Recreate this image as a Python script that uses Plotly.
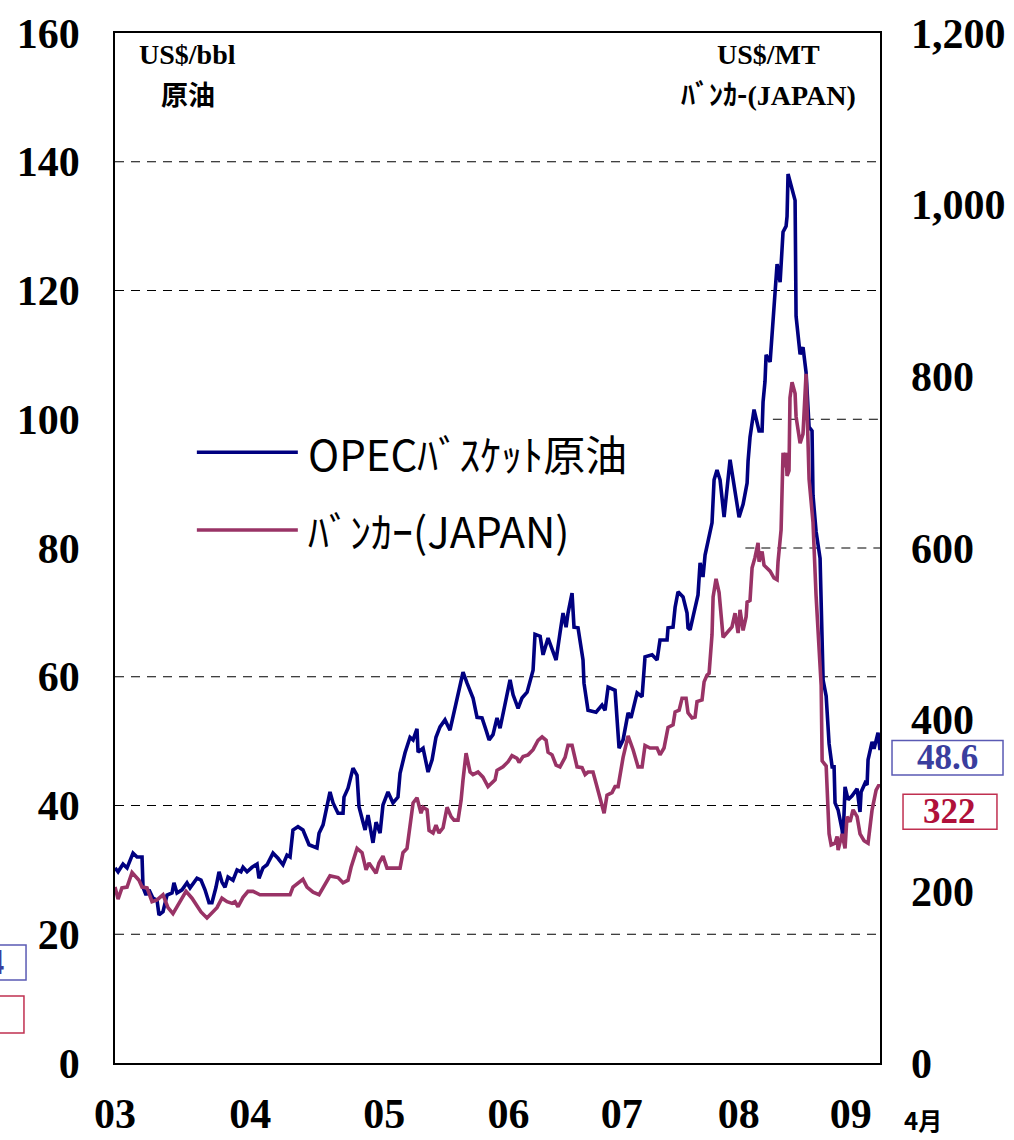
import plotly.graph_objects as go

# ---------------- data ----------------
opec_name = "OPEC\uff8a\uff9e\uff7d\uff79\uff6f\uff84原油"
bunker_name = "\uff8a\uff9e\uff9d\uff76\uff70(JAPAN)"

# time in decimal years, OPEC basket price (US$/bbl)
opec_t = [2003.000, 2003.025, 2003.066, 2003.099, 2003.148, 2003.181, 2003.222, 2003.230, 2003.255, 2003.279,
          2003.312, 2003.345, 2003.361, 2003.394, 2003.427, 2003.468, 2003.484, 2003.509, 2003.550, 2003.591,
          2003.616, 2003.673, 2003.706, 2003.739, 2003.772, 2003.796, 2003.829, 2003.854, 2003.878, 2003.903,
          2003.928, 2003.969, 2004.002, 2004.034, 2004.051, 2004.084, 2004.125, 2004.166, 2004.182, 2004.215,
          2004.248, 2004.297, 2004.338, 2004.379, 2004.412, 2004.437, 2004.461, 2004.502, 2004.543, 2004.576,
          2004.593, 2004.658, 2004.675, 2004.708, 2004.765, 2004.790, 2004.831, 2004.872, 2004.880, 2004.913,
          2004.954, 2004.987, 2005.003, 2005.036, 2005.053, 2005.077, 2005.118, 2005.143, 2005.176, 2005.200,
          2005.241, 2005.282, 2005.323, 2005.340, 2005.381, 2005.422, 2005.447, 2005.479, 2005.488, 2005.529,
          2005.570, 2005.603, 2005.635, 2005.668, 2005.709, 2005.750, 2005.775, 2005.816, 2005.857, 2005.890,
          2005.915, 2005.939, 2005.972, 2006.013, 2006.046, 2006.071, 2006.103, 2006.136, 2006.161, 2006.202,
          2006.243, 2006.268, 2006.309, 2006.341, 2006.383, 2006.432, 2006.448, 2006.490, 2006.514, 2006.555,
          2006.596, 2006.621, 2006.653, 2006.678, 2006.703, 2006.719, 2006.752, 2006.768, 2006.801, 2006.842,
          2006.850, 2006.883, 2006.949, 2006.998, 2007.023, 2007.048, 2007.105, 2007.138, 2007.171, 2007.212,
          2007.236, 2007.286, 2007.327, 2007.351, 2007.409, 2007.450, 2007.474, 2007.532, 2007.540, 2007.581,
          2007.598, 2007.622, 2007.663, 2007.696, 2007.704, 2007.721, 2007.745, 2007.786, 2007.803, 2007.827,
          2007.844, 2007.868, 2007.901, 2007.918, 2007.942, 2007.967, 2008.000, 2008.049, 2008.074, 2008.098,
          2008.123, 2008.156, 2008.189, 2008.197, 2008.213, 2008.246, 2008.287, 2008.312, 2008.320, 2008.336,
          2008.345, 2008.378, 2008.402, 2008.410, 2008.435, 2008.460, 2008.484, 2008.509, 2008.517, 2008.525,
          2008.583, 2008.591, 2008.624, 2008.648, 2008.673, 2008.698, 2008.722, 2008.730, 2008.755, 2008.788,
          2008.813, 2008.838, 2008.862, 2008.887, 2008.903, 2008.911, 2008.936, 2008.969, 2008.977, 2008.993,
          2009.018, 2009.051, 2009.092, 2009.116, 2009.125, 2009.158, 2009.174, 2009.182, 2009.215, 2009.231,
          2009.264, 2009.280]
opec_v = [30.3, 29.7, 30.9, 30.3, 32.6, 32.0, 32.0, 27.3, 26.1, 26.9,
          25.6, 25.3, 23.0, 23.5, 26.1, 26.4, 28.0, 26.4, 26.9, 28.0,
          27.2, 28.7, 28.4, 26.9, 24.9, 24.9, 27.3, 29.7, 28.1, 27.3,
          28.9, 28.4, 30.0, 29.7, 30.4, 29.7, 30.4, 30.9, 28.7, 30.3,
          30.8, 32.6, 31.8, 30.8, 32.3, 32.0, 36.2, 36.7, 36.2, 34.6,
          33.9, 33.4, 35.7, 37.0, 42.1, 40.4, 38.8, 38.8, 41.3, 42.7,
          45.8, 44.7, 39.8, 37.4, 36.2, 38.5, 34.2, 37.4, 35.7, 40.1,
          42.1, 40.4, 41.3, 45.0, 48.2, 50.6, 50.2, 51.9, 48.3, 48.9,
          45.2, 47.1, 50.6, 52.2, 53.3, 51.7, 53.7, 56.9, 60.7, 59.0,
          57.9, 56.7, 53.7, 53.6, 51.7, 50.2, 51.0, 53.6, 52.0, 56.1,
          59.5, 57.2, 55.1, 56.7, 57.6, 61.0, 66.6, 66.3, 63.4, 66.0,
          63.7, 62.6, 66.8, 69.9, 67.7, 69.9, 73.0, 67.7, 67.6, 62.6,
          59.0, 54.8, 54.5, 55.6, 54.8, 58.4, 57.9, 48.9, 50.2, 54.4,
          53.6, 57.5, 56.9, 63.1, 63.4, 62.6, 65.7, 65.7, 67.6, 67.7,
          70.8, 73.2, 72.4, 69.9, 67.6, 67.3, 69.3, 72.7, 77.7, 75.5,
          78.9, 80.8, 83.9, 90.6, 92.1, 90.6, 84.8, 93.7, 90.6, 87.0,
          84.8, 86.8, 90.1, 93.5, 97.2, 101.5, 98.2, 98.2, 102.7, 105.9,
          110.0, 108.9, 115.4, 119.3, 124.1, 121.3, 129.1, 130.0, 131.5, 138.1,
          134.0, 116.0, 110.1, 111.2, 107.3, 98.8, 98.2, 88.2, 82.6, 78.4,
          59.5, 57.0, 49.6, 46.0, 46.0, 40.4, 39.3, 36.2, 34.8, 42.9,
          40.9, 41.5, 42.6, 39.0, 42.1, 43.5, 43.2, 47.1, 49.9, 48.8,
          51.3, 48.6]

# time in decimal years, bunker price Japan (US$/MT)
bunker_t = [2003.000, 2003.025, 2003.057, 2003.099, 2003.140, 2003.197, 2003.222, 2003.263, 2003.304, 2003.345,
            2003.394, 2003.435, 2003.476, 2003.534, 2003.583, 2003.632, 2003.673, 2003.706, 2003.755, 2003.796,
            2003.837, 2003.878, 2003.920, 2003.961, 2003.985, 2004.010, 2004.051, 2004.092, 2004.133, 2004.190,
            2004.437, 2004.461, 2004.543, 2004.576, 2004.626, 2004.675, 2004.708, 2004.765, 2004.831, 2004.872,
            2004.913, 2004.938, 2004.987, 2005.028, 2005.061, 2005.085, 2005.143, 2005.167, 2005.200, 2005.233,
            2005.340, 2005.364, 2005.397, 2005.422, 2005.447, 2005.479, 2005.512, 2005.529, 2005.562, 2005.578,
            2005.611, 2005.635, 2005.660, 2005.693, 2005.726, 2005.759, 2005.783, 2005.816, 2005.841, 2005.857,
            2005.882, 2005.915, 2005.939, 2005.980, 2006.021, 2006.062, 2006.095, 2006.120, 2006.136, 2006.185,
            2006.227, 2006.259, 2006.300, 2006.317, 2006.350, 2006.391, 2006.432, 2006.473, 2006.506, 2006.539,
            2006.555, 2006.588, 2006.621, 2006.653, 2006.695, 2006.719, 2006.752, 2006.793, 2006.834, 2006.859,
            2006.883, 2006.924, 2006.949, 2006.982, 2007.015, 2007.039, 2007.080, 2007.105, 2007.130, 2007.171,
            2007.212, 2007.253, 2007.294, 2007.327, 2007.351, 2007.392, 2007.450, 2007.474, 2007.507, 2007.540,
            2007.581, 2007.598, 2007.631, 2007.655, 2007.688, 2007.704, 2007.737, 2007.762, 2007.778, 2007.819,
            2007.836, 2007.860, 2007.877, 2007.901, 2007.910, 2007.934, 2007.959, 2007.992, 2008.024, 2008.065,
            2008.090, 2008.115, 2008.131, 2008.156, 2008.181, 2008.189, 2008.213, 2008.230, 2008.254, 2008.279,
            2008.287, 2008.312, 2008.328, 2008.378, 2008.410, 2008.435, 2008.443, 2008.468, 2008.484, 2008.501,
            2008.509, 2008.517, 2008.533, 2008.541, 2008.558, 2008.583, 2008.591, 2008.624, 2008.648, 2008.673,
            2008.698, 2008.730, 2008.755, 2008.780, 2008.797, 2008.805, 2008.838, 2008.862, 2008.879, 2008.911,
            2008.928, 2008.936, 2008.969, 2008.993, 2009.009, 2009.034, 2009.059, 2009.092, 2009.116, 2009.149,
            2009.182, 2009.215, 2009.248, 2009.272, 2009.280]
bunker_v = [205, 191, 204, 205, 222, 213, 205, 204, 188, 190,
            196, 181, 174, 188, 200, 192, 184, 176, 169, 175,
            181, 192, 188, 186, 188, 182, 193, 200, 200, 196,
            196, 205, 214, 205, 199, 196, 204, 218, 216, 210,
            213, 228, 250, 245, 225, 233, 221, 233, 241, 227,
            227, 245, 250, 275, 303, 309, 291, 298, 295, 271,
            268, 277, 268, 274, 298, 287, 283, 283, 306, 330,
            361, 339, 336, 339, 333, 322, 326, 330, 341, 345,
            351, 358, 355, 350, 357, 359, 365, 376, 380, 376,
            362, 359, 347, 345, 356, 370, 370, 345, 344, 336,
            339, 339, 326, 310, 291, 312, 315, 322, 322, 356,
            381, 365, 345, 345, 370, 367, 367, 359, 367, 391,
            394, 409, 411, 425, 425, 408, 402, 403, 421, 423,
            444, 452, 454, 499, 543, 564, 548, 496, 502, 508,
            524, 501, 528, 504, 520, 537, 539, 577, 589, 606,
            584, 596, 580, 573, 565, 563, 584, 621, 711, 694,
            711, 684, 690, 775, 793, 780, 753, 722, 733, 803,
            680, 630, 545, 482, 440, 352, 346, 267, 254, 256,
            264, 248, 267, 250, 287, 281, 295, 287, 267, 259,
            256, 295, 318, 324, 322]

left_ticks = [0, 20, 40, 60, 80, 100, 120, 140, 160]
right_ticks = [0, 200, 400, 600, 800, 1000, 1200]
year_labels = ["03", "04", "05", "06", "07", "08", "09"]
year_label_pos = [2003.0, 2004.11, 2005.21, 2006.23, 2007.16, 2008.12, 2009.04]
grid_values = [20, 40, 60, 80, 100, 120, 140]
latest_opec = "48.6"
latest_bunker = "322"

# ---------------- style ----------------
SERIF = "Liberation Serif, Times New Roman, serif"
JP = "Noto Sans CJK JP, sans-serif"
BLUE = "#000080"
RED = "#993366"
LW = 3.6

fig = go.Figure()
fig.add_trace(go.Scatter(x=opec_t, y=opec_v, mode="lines", name=opec_name,
                         line=dict(color=BLUE, width=LW), yaxis="y"))
fig.add_trace(go.Scatter(x=bunker_t, y=bunker_v, mode="lines", name=bunker_name,
                         line=dict(color=RED, width=LW), yaxis="y2"))

shapes = []
# dashed gridlines (the ones at 80/100 are hidden behind the legend area on the left)
grid_start = {80: 0.824, 100: 0.860}
for g in grid_values:
    shapes.append(dict(type="line", xref="paper", yref="y", x0=grid_start.get(g, 0), x1=1,
                       y0=g, y1=g, layer="below",
                       line=dict(color="black", width=1, dash="9px,7px")))

# legend samples
shapes.append(dict(type="line", xref="paper", yref="paper", x0=0.107, x1=0.239, y0=0.593, y1=0.593,
                   line=dict(color=BLUE, width=LW)))
shapes.append(dict(type="line", xref="paper", yref="paper", x0=0.107, x1=0.239, y0=0.5175, y1=0.5175,
                   line=dict(color=RED, width=LW)))

# value boxes (right) and clipped boxes (left edge)
shapes.append(dict(type="rect", xref="paper", yref="paper", x0=1.0157, x1=1.1608, y0=0.2796, y1=0.3130,
                   line=dict(color="#5a5ab4", width=1.5), fillcolor="white"))
shapes.append(dict(type="rect", xref="paper", yref="paper", x0=1.0301, x1=1.1529, y0=0.2269, y1=0.2610,
                   line=dict(color="#c03050", width=1.5), fillcolor="white"))
shapes.append(dict(type="rect", xref="paper", yref="paper", x0=-0.30, x1=-0.1163, y0=0.0806, y1=0.1146,
                   line=dict(color="#5a5ab4", width=1.5), fillcolor="white"))
shapes.append(dict(type="rect", xref="paper", yref="paper", x0=-0.30, x1=-0.1190, y0=0.0291, y1=0.0650,
                   line=dict(color="#c03050", width=1.5), fillcolor="white"))

annotations = [
    dict(text=opec_name, xref="paper", yref="paper", x=0.2497, y=0.593, xanchor="left", yanchor="middle",
         showarrow=False, font=dict(family=JP, size=42, color="black")),
    dict(text=bunker_name, xref="paper", yref="paper", x=0.2497, y=0.5175, xanchor="left", yanchor="middle",
         showarrow=False, font=dict(family=JP, size=42, color="black")),
    dict(text="<b>US$/bbl</b>", xref="paper", yref="paper", x=0.0954, y=0.9796, xanchor="center",
         yanchor="middle", showarrow=False, font=dict(family=SERIF, size=28, color="black")),
    dict(text="<b>原油</b>", xref="paper", yref="paper", x=0.0954, y=0.9417, xanchor="center",
         yanchor="middle", showarrow=False, font=dict(family=JP, size=27, color="black")),
    dict(text="<b>US$/MT</b>", xref="paper", yref="paper", x=0.8536, y=0.9796, xanchor="center",
         yanchor="middle", showarrow=False, font=dict(family=SERIF, size=28, color="black")),
    dict(text="<b>\uff8a\uff9e\uff9d\uff76-</b><span style=\"font-family:Liberation Serif\"><b>(JAPAN)</b></span>",
         xref="paper", yref="paper", x=0.8536, y=0.9417, xanchor="center",
         yanchor="middle", showarrow=False, font=dict(family=JP, size=28, color="black")),
    dict(text="<b>4月</b>", xref="paper", yref="paper", x=1.056, y=-0.0553, xanchor="center",
         yanchor="middle", showarrow=False, font=dict(family=JP, size=24, color="black")),
    dict(text="<b>" + latest_opec + "</b>", xref="paper", yref="paper", x=1.0882, y=0.2963,
         xanchor="center", yanchor="middle", showarrow=False, font=dict(family=SERIF, size=35, color="#3a3e9e")),
    dict(text="<b>" + latest_bunker + "</b>", xref="paper", yref="paper", x=1.0915, y=0.2442,
         xanchor="center", yanchor="middle", showarrow=False, font=dict(family=SERIF, size=35, color="#b0103a")),
    dict(text="<b>24.4</b>", xref="paper", yref="paper", x=-0.1425, y=0.098,
         xanchor="right", yanchor="middle", showarrow=False, font=dict(family=SERIF, size=35, color="#3a3e9e")),
]

axis_font = dict(family=SERIF, size=42, color="black", weight="bold")

fig.update_layout(
    template="none",
    width=1014, height=1140,
    margin=dict(l=115, r=134, t=33, b=77, pad=0),
    paper_bgcolor="white", plot_bgcolor="white",
    showlegend=False,
    shapes=shapes,
    annotations=annotations,
    xaxis=dict(range=[2003.0, 2009.28], tickmode="array", tickvals=year_label_pos, ticktext=year_labels,
               ticks="", showgrid=False, zeroline=False, showline=True, linecolor="black", linewidth=1.5,
               mirror=True, tickfont=axis_font, ticklabelstandoff=13, automargin=False),
    yaxis=dict(range=[0, 160], tickmode="array", tickvals=left_ticks, ticks="", showgrid=False,
               zeroline=False, showline=True, linecolor="black", linewidth=1.5, mirror=True,
               tickfont=axis_font, ticklabelstandoff=25, automargin=False),
    yaxis2=dict(range=[0, 1200], tickmode="array", tickvals=right_ticks, tickformat=",", ticks="",
                overlaying="y", side="right", showgrid=False, zeroline=False, showline=False,
                tickfont=axis_font, ticklabelstandoff=30, automargin=False),
)

fig.write_html("out.html", config={"displayModeBar": False},
               post_script="document.body.style.margin='0';document.body.style.overflow='hidden';")
